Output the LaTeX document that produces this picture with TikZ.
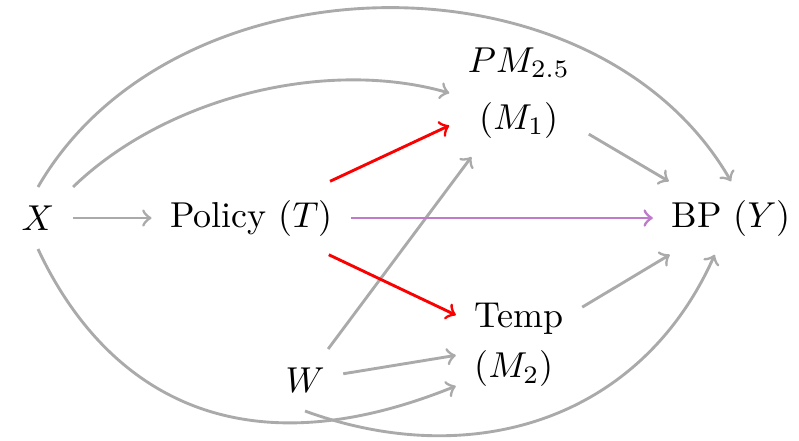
\documentclass[tikz,border=0pt]{standalone}
\usetikzlibrary{arrows}
\definecolor{edgegray}{RGB}{170,170,170}
\definecolor{edgepurple}{RGB}{192,122,204}
\definecolor{edgered}{RGB}{250,0,0}
\tikzset{
  var/.style={inner sep=5pt},
  gedge/.style={->,thick,draw=edgegray},
  redge/.style={->,thick,draw=edgered},
  pedge/.style={->,thick,draw=edgepurple},
}
\begin{document}
\begin{tikzpicture}[x=0.2778pt,y=0.2778pt]
\useasboundingbox (0,0) rectangle (799,440);
\node[var] (X) at (38,222) {$X$};
\node[var] (T) at (251.5,222) {Policy ($T$)};
\node[var] (Y) at (731,222) {BP ($Y$)};
\node[var,align=center] (M1) at (519,347) {$PM_{2.5}$\\[3.8pt]($M_1$)};
\node[var,align=left] (M2) at (519,95) {Temp\\[1.9pt]($M_2$)};
\node[var] (W) at (305,60) {$W$};
% gray edges
\draw[gedge] (X.north) to[out=60,in=120] (Y.north);
\draw[gedge] (X.north east) to[bend left=30,looseness=0.85] (M1.west);
\draw[gedge] (X) -- (T);
\draw[gedge] (X.south) .. controls +(-65:125) and +(202:265) .. (M2.213);
\draw[gedge] (W) -- (M1);
\draw[gedge] (W) -- (M2);
\draw[gedge] (W.south) to[out=-20,in=246,looseness=1.05] (Y);
\draw[gedge] (M1) -- (Y);
\draw[gedge] (M2) -- (Y);
% colored edges
\draw[redge] (T) -- (M1);
\draw[redge] (T) -- (M2);
\draw[pedge] (T) -- (Y);
\end{tikzpicture}
\end{document}
